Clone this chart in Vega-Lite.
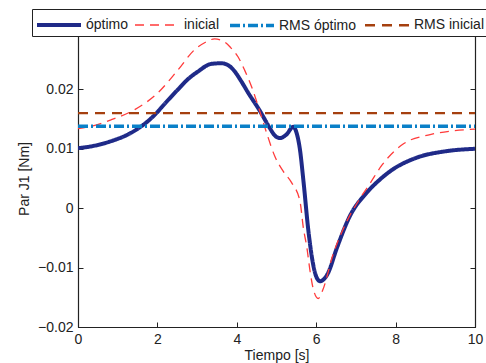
{
  "$schema": "https://vega.github.io/schema/vega-lite/v6.json",
  "width": 397,
  "height": 297,
  "autosize": {"type": "none"},
  "padding": {"left": 78, "top": 30, "right": 11, "bottom": 36},
  "background": "white",
  "config": {
    "font": "Liberation Sans",
    "view": {"stroke": "#222", "strokeWidth": 1},
    "axis": {
      "labelFont": "Liberation Sans", "labelFontSize": 14, "labelColor": "#222",
      "titleFont": "Liberation Sans", "titleFontSize": 14, "titleFontWeight": "normal", "titleColor": "#222",
      "domainColor": "#222", "tickColor": "#222", "tickSize": -5, "grid": false, "domainWidth": 1.2
    }
  },
  "data": {
    "values": [
      {"t": 0, "v": 0.0101, "s": "óptimo"},
      {"t": 0.4, "v": 0.0105, "s": "óptimo"},
      {"t": 0.84, "v": 0.0113, "s": "óptimo"},
      {"t": 1.34, "v": 0.0127, "s": "óptimo"},
      {"t": 1.93, "v": 0.0157, "s": "óptimo"},
      {"t": 2.2, "v": 0.0177, "s": "óptimo"},
      {"t": 2.52, "v": 0.0200, "s": "óptimo"},
      {"t": 2.75, "v": 0.0216, "s": "óptimo"},
      {"t": 3.02, "v": 0.0230, "s": "óptimo"},
      {"t": 3.36, "v": 0.0243, "s": "óptimo"},
      {"t": 3.61, "v": 0.0244, "s": "óptimo"},
      {"t": 3.8, "v": 0.0240, "s": "óptimo"},
      {"t": 3.95, "v": 0.0230, "s": "óptimo"},
      {"t": 4.1, "v": 0.0215, "s": "óptimo"},
      {"t": 4.28, "v": 0.0195, "s": "óptimo"},
      {"t": 4.58, "v": 0.0164, "s": "óptimo"},
      {"t": 4.83, "v": 0.0135, "s": "óptimo"},
      {"t": 4.95, "v": 0.0123, "s": "óptimo"},
      {"t": 5.09, "v": 0.0118, "s": "óptimo"},
      {"t": 5.25, "v": 0.0124, "s": "óptimo"},
      {"t": 5.42, "v": 0.0137, "s": "óptimo"},
      {"t": 5.5, "v": 0.0128, "s": "óptimo"},
      {"t": 5.59, "v": 0.0099, "s": "óptimo"},
      {"t": 5.68, "v": 0.0045, "s": "óptimo"},
      {"t": 5.8, "v": -0.0036, "s": "óptimo"},
      {"t": 5.93, "v": -0.0097, "s": "óptimo"},
      {"t": 6.02, "v": -0.0118, "s": "óptimo"},
      {"t": 6.1, "v": -0.0123, "s": "óptimo"},
      {"t": 6.2, "v": -0.0119, "s": "óptimo"},
      {"t": 6.3, "v": -0.0109, "s": "óptimo"},
      {"t": 6.51, "v": -0.0069, "s": "óptimo"},
      {"t": 6.85, "v": -0.0013, "s": "óptimo"},
      {"t": 7.27, "v": 0.0026, "s": "óptimo"},
      {"t": 7.6, "v": 0.0048, "s": "óptimo"},
      {"t": 7.9, "v": 0.0064, "s": "óptimo"},
      {"t": 8.53, "v": 0.0085, "s": "óptimo"},
      {"t": 9.28, "v": 0.0096, "s": "óptimo"},
      {"t": 10, "v": 0.0100, "s": "óptimo"},
      {"t": 0, "v": 0.0134, "s": "inicial"},
      {"t": 0.4, "v": 0.0139, "s": "inicial"},
      {"t": 0.84, "v": 0.0149, "s": "inicial"},
      {"t": 1.43, "v": 0.0166, "s": "inicial"},
      {"t": 2.01, "v": 0.0194, "s": "inicial"},
      {"t": 2.52, "v": 0.0233, "s": "inicial"},
      {"t": 2.94, "v": 0.0267, "s": "inicial"},
      {"t": 3.2, "v": 0.0279, "s": "inicial"},
      {"t": 3.44, "v": 0.0285, "s": "inicial"},
      {"t": 3.69, "v": 0.0280, "s": "inicial"},
      {"t": 3.85, "v": 0.0270, "s": "inicial"},
      {"t": 4.03, "v": 0.0255, "s": "inicial"},
      {"t": 4.2, "v": 0.0232, "s": "inicial"},
      {"t": 4.37, "v": 0.0205, "s": "inicial"},
      {"t": 4.58, "v": 0.0163, "s": "inicial"},
      {"t": 4.75, "v": 0.0127, "s": "inicial"},
      {"t": 4.96, "v": 0.0087, "s": "inicial"},
      {"t": 5.17, "v": 0.0062, "s": "inicial"},
      {"t": 5.38, "v": 0.0043, "s": "inicial"},
      {"t": 5.59, "v": 0.0012, "s": "inicial"},
      {"t": 5.68, "v": -0.0035, "s": "inicial"},
      {"t": 5.76, "v": -0.0064, "s": "inicial"},
      {"t": 5.85, "v": -0.0108, "s": "inicial"},
      {"t": 5.93, "v": -0.0137, "s": "inicial"},
      {"t": 6.05, "v": -0.0152, "s": "inicial"},
      {"t": 6.17, "v": -0.0137, "s": "inicial"},
      {"t": 6.41, "v": -0.0081, "s": "inicial"},
      {"t": 6.75, "v": -0.0025, "s": "inicial"},
      {"t": 7.09, "v": 0.0015, "s": "inicial"},
      {"t": 7.34, "v": 0.0040, "s": "inicial"},
      {"t": 7.65, "v": 0.0072, "s": "inicial"},
      {"t": 8.19, "v": 0.0108, "s": "inicial"},
      {"t": 8.87, "v": 0.0124, "s": "inicial"},
      {"t": 9.4, "v": 0.0130, "s": "inicial"},
      {"t": 10, "v": 0.0133, "s": "inicial"},
      {"t": 0, "v": 0.0138, "s": "RMS óptimo"},
      {"t": 10, "v": 0.0138, "s": "RMS óptimo"},
      {"t": 0, "v": 0.0160, "s": "RMS inicial"},
      {"t": 10, "v": 0.0160, "s": "RMS inicial"}
    ]
  },
  "layer": [
    {
      "mark": {"type": "line", "interpolate": "monotone", "clip": true},
      "encoding": {
        "x": {"field": "t", "type": "quantitative", "scale": {"domain": [0, 10], "nice": false},
              "axis": {"title": "Tiempo [s]", "values": [0, 2, 4, 6, 8, 10], "labelPadding": 10, "titlePadding": 2, "labelFlush": false}},
        "y": {"field": "v", "type": "quantitative", "scale": {"domain": [-0.02, 0.03], "nice": false, "zero": false},
              "axis": {"title": "Par J1 [Nm]", "values": [-0.02, -0.01, 0, 0.01, 0.02, 0.03], "format": ".2~f", "labelPadding": 10, "titlePadding": 6, "labelFlush": false}},
        "color": {"field": "s", "type": "nominal",
                  "scale": {"domain": ["óptimo", "inicial", "RMS óptimo", "RMS inicial"], "range": ["#1F2A88", "#FF3B3B", "#0A80C8", "#A5400F"]},
                  "legend": {"title": null, "orient": "none", "legendX": -46, "legendY": -21, "direction": "horizontal", "columns": 4,
                             "symbolType": "M-1,0H3", "symbolSize": 484, "symbolFillColor": "transparent", "labelFontSize": 14, "labelFont": "Liberation Sans", "labelColor": "#222",
                             "labelOffset": 25, "columnPadding": 3, "padding": 3, "strokeColor": "#222", "fillColor": "white", "cornerRadius": 0}},
        "strokeDash": {"field": "s", "type": "nominal",
                  "scale": {"domain": ["óptimo", "inicial", "RMS óptimo", "RMS inicial"], "range": [[1, 0], [9, 6], [10, 3, 2, 3], [10, 7]]},
                  "legend": {"title": null}},
        "strokeWidth": {"field": "s", "type": "nominal",
                  "scale": {"type": "ordinal", "domain": ["óptimo", "inicial", "RMS óptimo", "RMS inicial"], "range": [4, 1.3, 3.5, 2.3]},
                  "legend": {"title": null}},
        "order": {"field": "t", "type": "quantitative"}
      }
    },
    {
      "mark": {"type": "point", "opacity": 0},
      "encoding": {
        "x": {"field": "t", "type": "quantitative", "axis": {"orient": "top", "labels": false, "title": null, "values": [0, 2, 4, 6, 8, 10]}},
        "y": {"field": "v", "type": "quantitative", "axis": {"orient": "right", "labels": false, "title": null, "values": [-0.02, -0.01, 0, 0.01, 0.02, 0.03]}}
      }
    }
  ],
  "resolve": {"axis": {"x": "independent", "y": "independent"}}
}
